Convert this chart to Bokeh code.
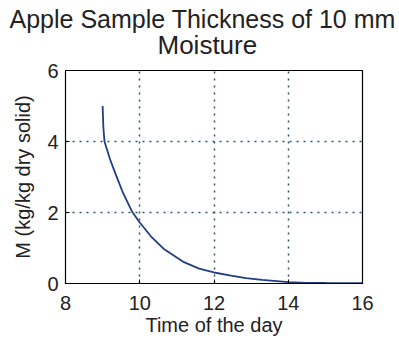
from bokeh.plotting import figure
from bokeh.models import Title, FixedTicker, Range1d
from bokeh.embed import file_html
from bokeh.resources import INLINE

# data
time_h = [9.0, 9.02, 9.05, 9.2, 9.35, 9.55, 9.79, 10.0, 10.3, 10.64, 11.19, 11.6,
          12.0, 12.46, 12.86, 13.3, 14.0, 14.5, 15.0, 16.0]
moisture = [5.0, 4.4, 4.0, 3.5, 3.08, 2.55, 2.03, 1.72, 1.33, 0.98, 0.6, 0.42,
            0.31, 0.22, 0.15, 0.1, 0.04, 0.02, 0.015, 0.01]
x_ticks = [8, 10, 12, 14, 16]
y_ticks = [0, 2, 4, 6]
title_line1 = "Apple Sample Thickness of 10 mm"
title_line2 = "Moisture"
x_label = "Time of the day"
y_label = "M (kg/kg dry solid)"

FONT = "Liberation Sans"

p = figure(width=399, height=342, output_backend="svg", toolbar_location=None,
           x_range=Range1d(8, 16), y_range=Range1d(0, 6),
           min_border_left=65, min_border_right=37, min_border_bottom=59,
           min_border_top=70, background_fill_color="white",
           border_fill_color="white")
p.title = None

p.add_layout(Title(text=title_line2, align="left", text_font=FONT,
                   text_font_size="26px", text_font_style="normal",
                   text_color="#222222", offset=92, standoff=22), "above")
p.add_layout(Title(text=title_line1, align="left", text_font=FONT,
                   text_font_size="25px", text_font_style="normal",
                   text_color="#222222", offset=-56, standoff=-32), "above")

p.line(time_h, moisture, line_color="#1f3f80", line_width=1.8)

p.outline_line_color = "black"
p.outline_line_width = 1.2

for ax in (p.xaxis, p.yaxis):
    ax.axis_line_color = "black"
    ax.major_tick_line_color = "black"
    ax.major_tick_in = 4
    ax.major_tick_out = 0
    ax.minor_tick_line_color = None
    ax.major_label_text_font = FONT
    ax.major_label_text_font_size = "20px"
    ax.major_label_text_color = "#222222"
    ax.axis_label_text_font = FONT
    ax.axis_label_text_font_size = "20px"
    ax.axis_label_text_font_style = "normal"
    ax.axis_label_text_color = "#222222"

p.xaxis.ticker = FixedTicker(ticks=x_ticks)
p.yaxis.ticker = FixedTicker(ticks=y_ticks)
p.xaxis.axis_label = x_label
p.yaxis.axis_label = y_label
p.xaxis.major_label_standoff = 12
p.xaxis.axis_label_standoff = 1
p.yaxis.major_label_standoff = 7
p.yaxis.axis_label_standoff = 10

for g in (p.xgrid, p.ygrid):
    g.grid_line_color = "#2b5566"
    g.grid_line_dash = "2 5"
    g.grid_line_width = 1.5

open("out.html", "w").write(file_html(p, INLINE))
